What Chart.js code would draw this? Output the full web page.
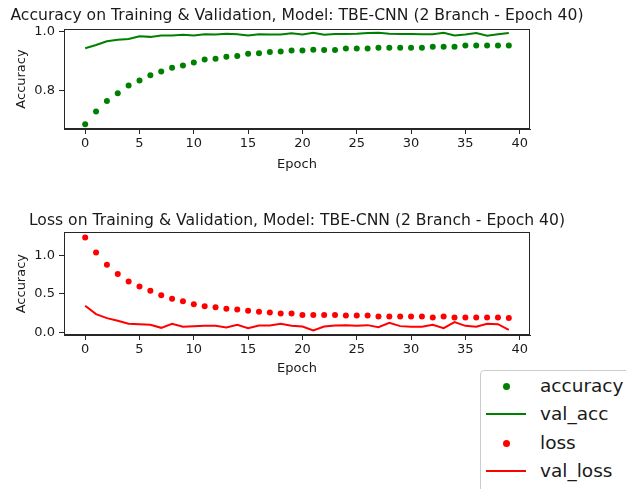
<!DOCTYPE html>
<html>
<head>
<meta charset="utf-8">
<script src="https://cdn.jsdelivr.net/npm/chart.js@4"></script>
<style>
  html, body { margin: 0; padding: 0; background: #fff; }
  body { width: 626px; height: 489px; position: relative; overflow: hidden; font-family: "DejaVu Sans", sans-serif; }
  canvas { position: absolute; left: 0; }
  #c1 { top: 0; }
  #c2 { top: 200px; }
  #legend { position: absolute; left: 480px; top: 370px; width: 170px; height: 140px; border: 1px solid #cccccc; border-radius: 4px; background: #fff; }
  .lg-text { position: absolute; left: 540px; height: 24px; line-height: 24px; font-size: 18.5px; color: #1a1a1a; font-family: "DejaVu Sans", sans-serif; white-space: nowrap; }
  .lg-dot { position: absolute; width: 7px; height: 7px; border-radius: 50%; }
  .lg-line { position: absolute; width: 40px; height: 2px; }
</style>
</head>
<body>
<canvas id="c1" width="594" height="190"></canvas>
<canvas id="c2" width="594" height="190"></canvas>
<div id="legend"></div>
<div id="lgitems"></div>
<script>
// ---- data ----
const epochs = [0,1,2,3,4,5,6,7,8,9,10,11,12,13,14,15,16,17,18,19,20,21,22,23,24,25,26,27,28,29,30,31,32,33,34,35,36,37,38,39];
const accuracy = [0.683,0.727,0.763,0.790,0.816,0.833,0.851,0.864,0.877,0.885,0.895,0.905,0.908,0.915,0.917,0.925,0.927,0.931,0.933,0.936,0.936,0.939,0.938,0.938,0.943,0.943,0.943,0.946,0.946,0.946,0.946,0.946,0.949,0.949,0.949,0.953,0.953,0.953,0.953,0.953];
const valAcc = [0.944,0.955,0.968,0.973,0.976,0.985,0.983,0.988,0.988,0.990,0.988,0.992,0.991,0.994,0.992,0.988,0.992,0.991,0.991,0.995,0.991,0.997,0.990,0.993,0.993,0.994,0.996,0.997,0.994,0.993,0.993,0.992,0.992,0.997,0.988,0.991,0.996,0.987,0.992,0.996];
const loss = [1.234,1.039,0.879,0.758,0.662,0.597,0.541,0.485,0.437,0.407,0.368,0.342,0.329,0.307,0.299,0.281,0.268,0.259,0.246,0.246,0.229,0.229,0.229,0.229,0.221,0.221,0.221,0.208,0.208,0.208,0.208,0.208,0.195,0.208,0.195,0.195,0.195,0.195,0.195,0.187];
const valLoss = [0.347,0.239,0.187,0.152,0.113,0.109,0.100,0.061,0.113,0.074,0.083,0.087,0.087,0.065,0.100,0.057,0.091,0.091,0.113,0.087,0.078,0.026,0.078,0.091,0.096,0.087,0.096,0.070,0.126,0.083,0.074,0.074,0.100,0.057,0.135,0.087,0.074,0.113,0.109,0.035];
const xTicks = [0,5,10,15,20,25,30,35,40];
const accYTicks = [0.8,1.0];
const lossYTicks = [0.0,0.5,1.0];
const titleAcc = "Accuracy on Training & Validation, Model: TBE-CNN (2 Branch - Epoch 40)";
const titleLoss = "Loss on Training & Validation, Model: TBE-CNN (2 Branch - Epoch 40)";
const legendLabels = ["accuracy","val_acc","loss","val_loss"];
const GREEN = "#008000", RED = "#ff0000";
// ---------------

const FONT = "DejaVu Sans";
const TXT = "#1a1a1a";
const SPINE = "#262626";

const frame = {
  id: 'frame',
  afterDraw(chart) {
    const a = chart.chartArea, ctx = chart.ctx;
    ctx.save();
    ctx.strokeStyle = SPINE; ctx.lineWidth = 1;
    ctx.strokeRect(Math.round(a.left) + 0.5, Math.round(a.top) + 0.5, Math.round(a.right - a.left) - 1, Math.round(a.bottom - a.top) - 1);
    // axes title centred over the axes box (matplotlib style)
    const o = chart.options.plugins.axTitle;
    ctx.fillStyle = TXT;
    ctx.font = "15.6px '" + FONT + "'";
    ctx.textAlign = 'center';
    ctx.textBaseline = 'alphabetic';
    ctx.fillText(o.text, (a.left + a.right) / 2, o.baseline);
    ctx.restore();
  }
};

function pts(ys) { return ys.map((y, i) => ({ x: epochs[i], y })); }

function makeChart(id, cfg) {
  return new Chart(document.getElementById(id), {
    type: 'scatter',
    data: {
      datasets: [
        { label: cfg.labels[0], data: pts(cfg.dots), showLine: false, pointRadius: 3, pointHoverRadius: 3, pointBackgroundColor: cfg.color, pointBorderWidth: 0, borderColor: cfg.color },
        { label: cfg.labels[1], data: pts(cfg.line), showLine: true, pointRadius: 0, borderColor: cfg.color, borderWidth: 2, tension: 0, fill: false }
      ]
    },
    options: {
      responsive: false, animation: false, devicePixelRatio: 1,
      layout: { padding: { left: 0, right: 64, top: cfg.top, bottom: 0 } },
      plugins: {
        legend: { display: false }, tooltip: { enabled: false }, title: { display: false },
        axTitle: { text: cfg.title, baseline: cfg.titleBase }
      },
      scales: {
        x: {
          type: 'linear', min: -1.95, max: 40.95,
          afterBuildTicks: s => { s.ticks = xTicks.map(v => ({ value: v })); },
          afterFit: s => { s.height = cfg.xh; },
          ticks: { color: TXT, font: { family: FONT, size: 13 }, padding: 2, maxRotation: 0, callback: v => String(v) },
          grid: { display: true, drawOnChartArea: false, drawTicks: true, tickLength: 5, color: SPINE, lineWidth: 1 },
          border: { display: true, color: SPINE, width: 1 },
          title: { display: true, text: 'Epoch', color: TXT, font: { family: FONT, size: 13 }, padding: { top: 0, bottom: cfg.xTitlePad } }
        },
        y: {
          min: cfg.ymin, max: cfg.ymax,
          afterBuildTicks: s => { s.ticks = cfg.yTicks.map(v => ({ value: v })); },
          afterFit: s => { s.width = 64; },
          ticks: { color: TXT, font: { family: FONT, size: 13 }, padding: 4, callback: v => Number(v).toFixed(1) },
          grid: { display: true, drawOnChartArea: false, drawTicks: true, tickLength: 5, color: SPINE, lineWidth: 1 },
          border: { display: true, color: SPINE, width: 1 },
          title: { display: true, text: 'Accuracy', color: TXT, font: { family: FONT, size: 13 }, padding: { top: 14, bottom: 0 } }
        }
      }
    },
    plugins: [frame]
  });
}

makeChart('c1', { labels: [legendLabels[0], legendLabels[1]], dots: accuracy, line: valAcc, color: GREEN, title: titleAcc,
  top: 29, titleBase: 19.5, xh: 61, xTitlePad: 17.5, ymin: 0.667, ymax: 1.010, yTicks: accYTicks });
makeChart('c2', { labels: [legendLabels[2], legendLabels[3]], dots: loss, line: valLoss, color: RED, title: titleLoss,
  top: 32.3, titleBase: 25, xh: 55, xTitlePad: 13.7, ymin: -0.032, ymax: 1.30, yTicks: lossYTicks });

// legend (HTML)
const lg = document.getElementById('lgitems');
const rows = [386, 414, 443, 471];
const kinds = [['dot', GREEN], ['line', GREEN], ['dot', RED], ['line', RED]];
legendLabels.forEach((t, i) => {
  const cy = rows[i];
  const m = document.createElement('div');
  if (kinds[i][0] === 'dot') {
    m.className = 'lg-dot'; m.style.left = (506.5 - 3.5) + 'px'; m.style.top = (cy - 3.5) + 'px';
  } else {
    m.className = 'lg-line'; m.style.left = '486px'; m.style.top = (cy - 1) + 'px';
  }
  m.style.background = kinds[i][1];
  lg.appendChild(m);
  const d = document.createElement('div');
  d.className = 'lg-text'; d.style.top = (cy - 12) + 'px'; d.textContent = t;
  lg.appendChild(d);
});
</script>
</body>
</html>
